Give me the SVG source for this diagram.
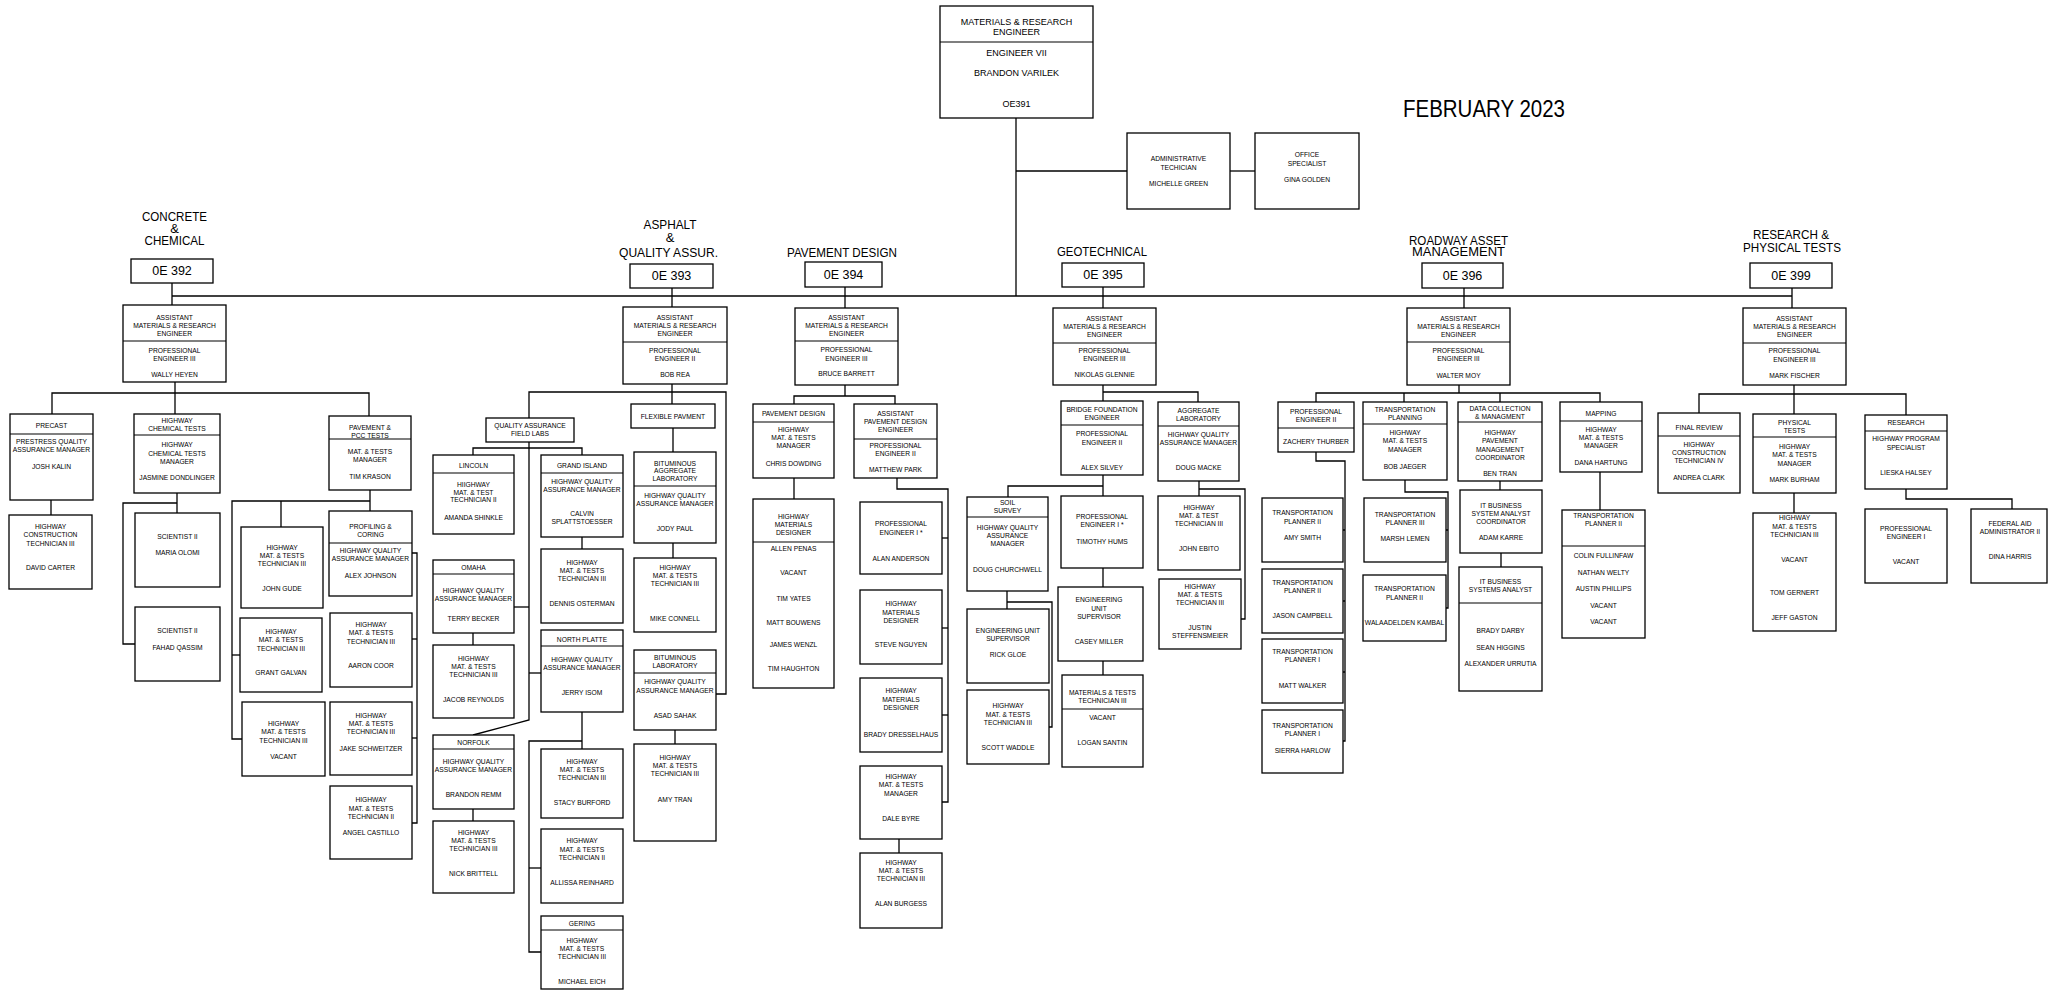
<svg xmlns="http://www.w3.org/2000/svg" width="2049" height="997" viewBox="0 0 2049 997">
<style>
.b{fill:#fff;stroke:#000;stroke-width:1.3}
.d{fill:none;stroke:#000;stroke-width:1.1}
#connectors path{fill:none;stroke:#000;stroke-width:1.3}
text{font-family:"Liberation Sans",Arial,Helvetica,sans-serif;fill:#000;text-anchor:middle}
.t{font-size:6.7px;dominant-baseline:central}
.h{font-size:13px}
.oe{font-size:12.5px;dominant-baseline:central}
.r{font-size:9px;dominant-baseline:central}
.big{font-size:24px}
</style>
<rect width="2049" height="997" fill="#fff"/>
<g id="connectors">
<path d="M1016 118V296"/><path d="M1016 171H1127"/><path d="M1230 171H1255"/><path d="M172 296H1792"/>
<path d="M172 283V305"/><path d="M672 288V307"/><path d="M845 287V308"/><path d="M1103 287V308"/><path d="M1464 288V308"/><path d="M1792 288V308"/>
<path d="M175 382V393"/><path d="M52 414V393H369V416"/><path d="M175 393V414"/><path d="M51 500V515"/><path d="M177 493V513"/><path d="M177 503H123V644H135"/>
<path d="M370 490V511"/><path d="M370 501H232V739H242"/><path d="M232 655H240"/><path d="M281 501V527"/><path d="M412 553H417V823H412"/><path d="M417 639H412"/><path d="M417 738H412"/>
<path d="M672 384V404"/><path d="M529 418V392H726V694H716"/><path d="M673 428V452"/><path d="M673 543V558"/><path d="M675 730V744"/>
<path d="M529 442V720L473 735"/><path d="M473 455V448H582V455"/><path d="M514 607H529"/><path d="M529 673H541"/><path d="M582 537V549"/><path d="M473 633V645"/><path d="M473 809V821"/>
<path d="M582 712V749"/><path d="M582 741H529V952H541"/><path d="M529 868H541"/>
<path d="M845 385V396"/><path d="M794 404V396H895V404"/><path d="M794 478V499"/><path d="M897 478V489H948V802H942"/><path d="M948 538H942"/><path d="M948 628H942"/><path d="M948 715H942"/><path d="M899 839V853"/>
<path d="M1103 385V401"/><path d="M1103 392H1198V402"/><path d="M1103 475V496"/><path d="M1103 486H1008V497"/><path d="M1007 591V609"/><path d="M1007 602H1052V727H1048"/><path d="M1103 568V587"/><path d="M1103 661V675"/><path d="M1199 481V496"/><path d="M1199 489H1245V619H1241"/>
<path d="M1459 385V393"/><path d="M1316 402V393H1600V402"/><path d="M1404 393V402"/><path d="M1500 393V402"/><path d="M1316 452V461H1345V741H1343"/><path d="M1345 530H1343"/><path d="M1345 601H1343"/><path d="M1345 672H1343"/>
<path d="M1405 480V492H1448V608H1446"/><path d="M1448 530H1446"/><path d="M1500 481V490"/><path d="M1501 553V567"/><path d="M1600 472V510"/>
<path d="M1794 385V394"/><path d="M1699 413V394H1906V415"/><path d="M1794 394V414"/><path d="M1794 493V513"/><path d="M1906 489V499H2012V509"/>
</g>
<g id="labels">
<text class="big" x="1484" y="117" textLength="162" lengthAdjust="spacingAndGlyphs">FEBRUARY 2023</text>
<text class="h" x="174.5" y="221" textLength="65" lengthAdjust="spacingAndGlyphs">CONCRETE</text>
<text class="h" x="174.5" y="233">&amp;</text>
<text class="h" x="174.5" y="245" textLength="60" lengthAdjust="spacingAndGlyphs">CHEMICAL</text>
<text class="h" x="670" y="229" textLength="53" lengthAdjust="spacingAndGlyphs">ASPHALT</text>
<text class="h" x="670" y="242">&amp;</text>
<text class="h" x="668.5" y="257" textLength="99" lengthAdjust="spacingAndGlyphs">QUALITY ASSUR.</text>
<text class="h" x="842" y="257" textLength="110" lengthAdjust="spacingAndGlyphs">PAVEMENT DESIGN</text>
<text class="h" x="1102" y="256" textLength="90" lengthAdjust="spacingAndGlyphs">GEOTECHNICAL</text>
<text class="h" x="1458.5" y="245" textLength="99" lengthAdjust="spacingAndGlyphs">ROADWAY ASSET</text>
<text class="h" x="1458.5" y="256" textLength="93" lengthAdjust="spacingAndGlyphs">MANAGEMENT</text>
<text class="h" x="1791" y="239" textLength="76" lengthAdjust="spacingAndGlyphs">RESEARCH &amp;</text>
<text class="h" x="1792" y="252" textLength="98" lengthAdjust="spacingAndGlyphs">PHYSICAL TESTS</text>
</g>
<g id="n-root"><rect class="b" x="940" y="6" width="153" height="112"/><path class="d" d="M940 42H1093"/>
<text class="r" x="1016.5" y="22">MATERIALS &amp; RESEARCH</text><text class="r" x="1016.5" y="32">ENGINEER</text><text class="r" x="1016.5" y="53">ENGINEER VII</text><text class="r" x="1016.5" y="73">BRANDON VARILEK</text><text class="r" x="1016.5" y="104">OE391</text></g>
<g id="n-admin"><rect class="b" x="1127" y="133" width="103" height="76"/><text class="t" x="1178.5" y="158">ADMINISTRATIVE</text><text class="t" x="1178.5" y="167">TECHICIAN</text><text class="t" x="1178.5" y="183">MICHELLE GREEN</text></g>
<g id="n-office"><rect class="b" x="1255" y="133" width="104" height="76"/><text class="t" x="1307" y="154">OFFICE</text><text class="t" x="1307" y="163">SPECIALIST</text><text class="t" x="1307" y="179">GINA GOLDEN</text></g>
<g id="n-oe392"><rect class="b" x="131" y="259" width="82" height="24"/><text class="oe" x="172" y="271">0E 392</text></g>
<g id="n-oe393"><rect class="b" x="630" y="264" width="83" height="24"/><text class="oe" x="671.5" y="276">0E 393</text></g>
<g id="n-oe394"><rect class="b" x="805" y="262" width="77" height="25"/><text class="oe" x="843.5" y="274.5">0E 394</text></g>
<g id="n-oe395"><rect class="b" x="1062" y="263" width="82" height="24"/><text class="oe" x="1103" y="275">0E 395</text></g>
<g id="n-oe396"><rect class="b" x="1422" y="263" width="81" height="25"/><text class="oe" x="1462.5" y="275.5">0E 396</text></g>
<g id="n-oe399"><rect class="b" x="1750" y="263" width="82" height="25"/><text class="oe" x="1791" y="275.5">0E 399</text></g>

<g id="n-c-asst"><rect class="b" x="123" y="305" width="103" height="77"/><path class="d" d="M123 341H226"/>
<text class="t" x="174.5" y="317">ASSISTANT</text><text class="t" x="174.5" y="325">MATERIALS &amp; RESEARCH</text><text class="t" x="174.5" y="333">ENGINEER</text><text class="t" x="174.5" y="350">PROFESSIONAL</text><text class="t" x="174.5" y="358">ENGINEER III</text><text class="t" x="174.5" y="374">WALLY HEYEN</text></g>
<g id="n-precast"><rect class="b" x="10" y="414" width="83" height="86"/><path class="d" d="M10 434H93"/>
<text class="t" x="51.5" y="425">PRECAST</text><text class="t" x="51.5" y="441">PRESTRESS QUALITY</text><text class="t" x="51.5" y="449">ASSURANCE MANAGER</text><text class="t" x="51.5" y="466">JOSH KALIN</text></g>
<g id="n-carter"><rect class="b" x="9" y="515" width="83" height="74"/>
<text class="t" x="50.5" y="526">HIGHWAY</text><text class="t" x="50.5" y="534">CONSTRUCTION</text><text class="t" x="50.5" y="543">TECHNICIAN III</text><text class="t" x="50.5" y="567">DAVID CARTER</text></g>
<g id="n-chem"><rect class="b" x="134" y="414" width="86" height="79"/><path class="d" d="M134 435H220"/>
<text class="t" x="177" y="420">HIGHWAY</text><text class="t" x="177" y="428">CHEMICAL TESTS</text><text class="t" x="177" y="444">HIGHWAY</text><text class="t" x="177" y="453">CHEMICAL TESTS</text><text class="t" x="177" y="461">MANAGER</text><text class="t" x="177" y="477">JASMINE DONDLINGER</text></g>
<g id="n-olomi"><rect class="b" x="135" y="513" width="85" height="74"/><text class="t" x="177.5" y="536">SCIENTIST II</text><text class="t" x="177.5" y="552">MARIA OLOMI</text></g>
<g id="n-qassim"><rect class="b" x="135" y="607" width="85" height="74"/><text class="t" x="177.5" y="630">SCIENTIST II</text><text class="t" x="177.5" y="647">FAHAD QASSIM</text></g>
<g id="n-pcc"><rect class="b" x="329" y="416" width="82" height="74"/><path class="d" d="M329 439H411"/>
<text class="t" x="370" y="427">PAVEMENT &amp;</text><text class="t" x="370" y="435">PCC TESTS</text><text class="t" x="370" y="451">MAT. &amp; TESTS</text><text class="t" x="370" y="459">MANAGER</text><text class="t" x="370" y="476">TIM KRASON</text></g>
<g id="n-gude"><rect class="b" x="241" y="527" width="82" height="81"/>
<text class="t" x="282" y="547">HIGHWAY</text><text class="t" x="282" y="555">MAT. &amp; TESTS</text><text class="t" x="282" y="563">TECHNICIAN III</text><text class="t" x="282" y="588">JOHN GUDE</text></g>
<g id="n-profiling"><rect class="b" x="329" y="511" width="83" height="85"/><path class="d" d="M329 543H412"/>
<text class="t" x="370.5" y="526">PROFILING &amp;</text><text class="t" x="370.5" y="534">CORING</text><text class="t" x="370.5" y="550">HIGHWAY QUALITY</text><text class="t" x="370.5" y="558">ASSURANCE MANAGER</text><text class="t" x="370.5" y="575">ALEX JOHNSON</text></g>
<g id="n-galvan"><rect class="b" x="240" y="618" width="82" height="74"/>
<text class="t" x="281" y="631">HIGHWAY</text><text class="t" x="281" y="639">MAT. &amp; TESTS</text><text class="t" x="281" y="648">TECHNICIAN III</text><text class="t" x="281" y="672">GRANT GALVAN</text></g>
<g id="n-c-vacant"><rect class="b" x="242" y="702" width="83" height="74"/>
<text class="t" x="283.5" y="723">HIGHWAY</text><text class="t" x="283.5" y="731">MAT. &amp; TESTS</text><text class="t" x="283.5" y="740">TECHNICIAN III</text><text class="t" x="283.5" y="756">VACANT</text></g>
<g id="n-coor"><rect class="b" x="330" y="613" width="82" height="74"/>
<text class="t" x="371" y="624">HIGHWAY</text><text class="t" x="371" y="632">MAT. &amp; TESTS</text><text class="t" x="371" y="641">TECHNICIAN III</text><text class="t" x="371" y="665">AARON COOR</text></g>
<g id="n-schweitzer"><rect class="b" x="330" y="702" width="82" height="73"/>
<text class="t" x="371" y="715">HIGHWAY</text><text class="t" x="371" y="723">MAT. &amp; TESTS</text><text class="t" x="371" y="731">TECHNICIAN III</text><text class="t" x="371" y="748">JAKE SCHWEITZER</text></g>
<g id="n-castillo"><rect class="b" x="330" y="786" width="82" height="73"/>
<text class="t" x="371" y="799">HIGHWAY</text><text class="t" x="371" y="808">MAT. &amp; TESTS</text><text class="t" x="371" y="816">TECHNICIAN II</text><text class="t" x="371" y="832">ANGEL CASTILLO</text></g>

<g id="n-a-asst"><rect class="b" x="623" y="307" width="104" height="77"/><path class="d" d="M623 342H727"/>
<text class="t" x="675" y="317">ASSISTANT</text><text class="t" x="675" y="325">MATERIALS &amp; RESEARCH</text><text class="t" x="675" y="333">ENGINEER</text><text class="t" x="675" y="350">PROFESSIONAL</text><text class="t" x="675" y="358">ENGINEER II</text><text class="t" x="675" y="374">BOB REA</text></g>
<g id="n-flex"><rect class="b" x="631" y="404" width="84" height="24"/><text class="t" x="673" y="416">FLEXIBLE PAVMENT</text></g>
<g id="n-bitagg"><rect class="b" x="634" y="452" width="82" height="91"/><path class="d" d="M634 486H716"/>
<text class="t" x="675" y="463">BITUMINOUS</text><text class="t" x="675" y="470">AGGREGATE</text><text class="t" x="675" y="478">LABORATORY</text><text class="t" x="675" y="495">HIGHWAY QUALITY</text><text class="t" x="675" y="503">ASSURANCE MANAGER</text><text class="t" x="675" y="528">JODY PAUL</text></g>
<g id="n-connell"><rect class="b" x="634" y="558" width="82" height="74"/>
<text class="t" x="675" y="567">HIGHWAY</text><text class="t" x="675" y="575">MAT. &amp; TESTS</text><text class="t" x="675" y="583">TECHNICIAN III</text><text class="t" x="675" y="618">MIKE CONNELL</text></g>
<g id="n-bitlab"><rect class="b" x="634" y="650" width="82" height="80"/><path class="d" d="M634 673H716"/>
<text class="t" x="675" y="657">BITUMINOUS</text><text class="t" x="675" y="665">LABORATORY</text><text class="t" x="675" y="681">HIGHWAY QUALITY</text><text class="t" x="675" y="690">ASSURANCE MANAGER</text><text class="t" x="675" y="715">ASAD SAHAK</text></g>
<g id="n-tran"><rect class="b" x="634" y="744" width="82" height="97"/>
<text class="t" x="675" y="757">HIGHWAY</text><text class="t" x="675" y="765">MAT. &amp; TESTS</text><text class="t" x="675" y="773">TECHNICIAN III</text><text class="t" x="675" y="799">AMY TRAN</text></g>
<g id="n-qa"><rect class="b" x="486" y="418" width="88" height="24"/><text class="t" x="530" y="425">QUALITY ASSURANCE</text><text class="t" x="530" y="433">FIELD LABS</text></g>
<g id="n-lincoln"><rect class="b" x="433" y="455" width="81" height="79"/><path class="d" d="M433 473H514"/>
<text class="t" x="473.5" y="465">LINCOLN</text><text class="t" x="473.5" y="484">HIIGHWAY</text><text class="t" x="473.5" y="492">MAT. &amp; TEST</text><text class="t" x="473.5" y="499">TECHNICIAN II</text><text class="t" x="473.5" y="517">AMANDA SHINKLE</text></g>
<g id="n-grand"><rect class="b" x="541" y="455" width="82" height="82"/><path class="d" d="M541 473H623"/>
<text class="t" x="582" y="465">GRAND ISLAND</text><text class="t" x="582" y="481">HIGHWAY QUALITY</text><text class="t" x="582" y="489">ASSURANCE MANAGER</text><text class="t" x="582" y="513">CALVIN</text><text class="t" x="582" y="521">SPLATTSTOESSER</text></g>
<g id="n-osterman"><rect class="b" x="541" y="549" width="82" height="74"/>
<text class="t" x="582" y="562">HIGHWAY</text><text class="t" x="582" y="570">MAT. &amp; TESTS</text><text class="t" x="582" y="578">TECHNICIAN III</text><text class="t" x="582" y="603">DENNIS OSTERMAN</text></g>
<g id="n-omaha"><rect class="b" x="433" y="560" width="81" height="73"/><path class="d" d="M433 574H514"/>
<text class="t" x="473.5" y="567">OMAHA</text><text class="t" x="473.5" y="590">HIGHWAY QUALITY</text><text class="t" x="473.5" y="598">ASSURANCE MANAGER</text><text class="t" x="473.5" y="618">TERRY BECKER</text></g>
<g id="n-reynolds"><rect class="b" x="433" y="645" width="81" height="73"/>
<text class="t" x="473.5" y="658">HIGHWAY</text><text class="t" x="473.5" y="666">MAT. &amp; TESTS</text><text class="t" x="473.5" y="674">TECHNICIAN III</text><text class="t" x="473.5" y="699">JACOB REYNOLDS</text></g>
<g id="n-norfolk"><rect class="b" x="433" y="735" width="81" height="74"/><path class="d" d="M433 749H514"/>
<text class="t" x="473.5" y="742">NORFOLK</text><text class="t" x="473.5" y="761">HIGHWAY QUALITY</text><text class="t" x="473.5" y="769">ASSURANCE MANAGER</text><text class="t" x="473.5" y="794">BRANDON REMM</text></g>
<g id="n-brittell"><rect class="b" x="433" y="821" width="81" height="72"/>
<text class="t" x="473.5" y="832">HIGHWAY</text><text class="t" x="473.5" y="840">MAT. &amp; TESTS</text><text class="t" x="473.5" y="848">TECHNICIAN III</text><text class="t" x="473.5" y="873">NICK BRITTELL</text></g>
<g id="n-platte"><rect class="b" x="541" y="630" width="82" height="82"/><path class="d" d="M541 646H623"/>
<text class="t" x="582" y="639">NORTH PLATTE</text><text class="t" x="582" y="659">HIGHWAY QUALITY</text><text class="t" x="582" y="667">ASSURANCE MANAGER</text><text class="t" x="582" y="692">JERRY ISOM</text></g>
<g id="n-burford"><rect class="b" x="541" y="749" width="82" height="69"/>
<text class="t" x="582" y="761">HIGHWAY</text><text class="t" x="582" y="769">MAT. &amp; TESTS</text><text class="t" x="582" y="777">TECHNICIAN III</text><text class="t" x="582" y="802">STACY BURFORD</text></g>
<g id="n-reinhard"><rect class="b" x="541" y="829" width="82" height="74"/>
<text class="t" x="582" y="840">HIGHWAY</text><text class="t" x="582" y="849">MAT. &amp; TESTS</text><text class="t" x="582" y="857">TECHNICIAN II</text><text class="t" x="582" y="882">ALLISSA REINHARD</text></g>
<g id="n-gering"><rect class="b" x="541" y="916" width="82" height="73"/><path class="d" d="M541 930H623"/>
<text class="t" x="582" y="923">GERING</text><text class="t" x="582" y="940">HIGHWAY</text><text class="t" x="582" y="948">MAT. &amp; TESTS</text><text class="t" x="582" y="956">TECHNICIAN III</text><text class="t" x="582" y="981">MICHAEL EICH</text></g>

<g id="n-p-asst"><rect class="b" x="795" y="308" width="103" height="77"/><path class="d" d="M795 341H898"/>
<text class="t" x="846.5" y="317">ASSISTANT</text><text class="t" x="846.5" y="325">MATERIALS &amp; RESEARCH</text><text class="t" x="846.5" y="333">ENGINEER</text><text class="t" x="846.5" y="349">PROFESSIONAL</text><text class="t" x="846.5" y="358">ENGINEER III</text><text class="t" x="846.5" y="373">BRUCE BARRETT</text></g>
<g id="n-pdesign"><rect class="b" x="753" y="404" width="81" height="74"/><path class="d" d="M753 422H834"/>
<text class="t" x="793.5" y="413">PAVEMENT DESIGN</text><text class="t" x="793.5" y="429">HIGHWAY</text><text class="t" x="793.5" y="437">MAT. &amp; TESTS</text><text class="t" x="793.5" y="445">MANAGER</text><text class="t" x="793.5" y="463">CHRIS DOWDING</text></g>
<g id="n-designers"><rect class="b" x="753" y="499" width="81" height="189"/><path class="d" d="M753 542H834"/>
<text class="t" x="793.5" y="516">HIGHWAY</text><text class="t" x="793.5" y="524">MATERIALS</text><text class="t" x="793.5" y="532">DESIGNER</text><text class="t" x="793.5" y="548">ALLEN PENAS</text><text class="t" x="793.5" y="572">VACANT</text><text class="t" x="793.5" y="598">TIM YATES</text><text class="t" x="793.5" y="622">MATT BOUWENS</text><text class="t" x="793.5" y="644">JAMES WENZL</text><text class="t" x="793.5" y="668">TIM HAUGHTON</text></g>
<g id="n-apde"><rect class="b" x="854" y="404" width="83" height="74"/><path class="d" d="M854 439H937"/>
<text class="t" x="895.5" y="413">ASSISTANT</text><text class="t" x="895.5" y="421">PAVEMENT DESIGN</text><text class="t" x="895.5" y="429">ENGINEER</text><text class="t" x="895.5" y="445">PROFESSIONAL</text><text class="t" x="895.5" y="453">ENGINEER II</text><text class="t" x="895.5" y="469">MATTHEW PARK</text></g>
<g id="n-anderson"><rect class="b" x="860" y="502" width="82" height="72"/>
<text class="t" x="901" y="523">PROFESSIONAL</text><text class="t" x="901" y="532">ENGINEER I *</text><text class="t" x="901" y="558">ALAN ANDERSON</text></g>
<g id="n-nguyen"><rect class="b" x="860" y="590" width="82" height="74"/>
<text class="t" x="901" y="603">HIGHWAY</text><text class="t" x="901" y="612">MATERIALS</text><text class="t" x="901" y="620">DESIGNER</text><text class="t" x="901" y="644">STEVE NGUYEN</text></g>
<g id="n-dresselhaus"><rect class="b" x="860" y="678" width="82" height="74"/>
<text class="t" x="901" y="690">HIGHWAY</text><text class="t" x="901" y="699">MATERIALS</text><text class="t" x="901" y="707">DESIGNER</text><text class="t" x="901" y="734">BRADY DRESSELHAUS</text></g>
<g id="n-byre"><rect class="b" x="860" y="766" width="82" height="73"/>
<text class="t" x="901" y="776">HIGHWAY</text><text class="t" x="901" y="784">MAT. &amp; TESTS</text><text class="t" x="901" y="793">MANAGER</text><text class="t" x="901" y="818">DALE BYRE</text></g>
<g id="n-burgess"><rect class="b" x="860" y="853" width="82" height="75"/>
<text class="t" x="901" y="862">HIGHWAY</text><text class="t" x="901" y="870">MAT. &amp; TESTS</text><text class="t" x="901" y="878">TECHNICIAN III</text><text class="t" x="901" y="903">ALAN BURGESS</text></g>

<g id="n-g-asst"><rect class="b" x="1053" y="308" width="103" height="77"/><path class="d" d="M1053 343H1156"/>
<text class="t" x="1104.5" y="318">ASSISTANT</text><text class="t" x="1104.5" y="326">MATERIALS &amp; RESEARCH</text><text class="t" x="1104.5" y="334">ENGINEER</text><text class="t" x="1104.5" y="350">PROFESSIONAL</text><text class="t" x="1104.5" y="358">ENGINEER III</text><text class="t" x="1104.5" y="374">NIKOLAS GLENNIE</text></g>
<g id="n-bridge"><rect class="b" x="1061" y="401" width="82" height="74"/><path class="d" d="M1061 425H1143"/>
<text class="t" x="1102" y="409">BRIDGE FOUNDATION</text><text class="t" x="1102" y="417">ENGINEER</text><text class="t" x="1102" y="433">PROFESSIONAL</text><text class="t" x="1102" y="442">ENGINEER II</text><text class="t" x="1102" y="467">ALEX SILVEY</text></g>
<g id="n-aggregate"><rect class="b" x="1158" y="402" width="81" height="79"/><path class="d" d="M1158 426H1239"/>
<text class="t" x="1198.5" y="410">AGGREGATE</text><text class="t" x="1198.5" y="418">LABORATORY</text><text class="t" x="1198.5" y="434">HIGHWAY QUALITY</text><text class="t" x="1198.5" y="442">ASSURANCE MANAGER</text><text class="t" x="1198.5" y="467">DOUG MACKE</text></g>
<g id="n-soil"><rect class="b" x="967" y="497" width="81" height="94"/><path class="d" d="M967 517H1048"/>
<text class="t" x="1007.5" y="502">SOIL</text><text class="t" x="1007.5" y="510">SURVEY</text><text class="t" x="1007.5" y="527">HIGHWAY QUALITY</text><text class="t" x="1007.5" y="535">ASSURANCE</text><text class="t" x="1007.5" y="543">MANAGER</text><text class="t" x="1007.5" y="569">DOUG CHURCHWELL</text></g>
<g id="n-gloe"><rect class="b" x="967" y="609" width="82" height="74"/>
<text class="t" x="1008" y="630">ENGINEERING UNIT</text><text class="t" x="1008" y="638">SUPERVISOR</text><text class="t" x="1008" y="654">RICK GLOE</text></g>
<g id="n-waddle"><rect class="b" x="967" y="690" width="82" height="74"/>
<text class="t" x="1008" y="705">HIGHWAY</text><text class="t" x="1008" y="714">MAT. &amp; TESTS</text><text class="t" x="1008" y="722">TECHNICIAN III</text><text class="t" x="1008" y="747">SCOTT WADDLE</text></g>
<g id="n-hums"><rect class="b" x="1061" y="496" width="82" height="72"/>
<text class="t" x="1102" y="516">PROFESSIONAL</text><text class="t" x="1102" y="524">ENGINEER I *</text><text class="t" x="1102" y="541">TIMOTHY HUMS</text></g>
<g id="n-miller"><rect class="b" x="1058" y="587" width="85" height="74"/>
<text class="t" x="1099" y="599">ENGINEERING</text><text class="t" x="1099" y="608">UNIT</text><text class="t" x="1099" y="616">SUPERVISOR</text><text class="t" x="1099" y="641">CASEY MILLER</text></g>
<g id="n-santin"><rect class="b" x="1062" y="675" width="81" height="92"/><path class="d" d="M1062 709H1143"/>
<text class="t" x="1102.5" y="692">MATERIALS &amp; TESTS</text><text class="t" x="1102.5" y="700">TECHNICIAN III</text><text class="t" x="1102.5" y="717">VACANT</text><text class="t" x="1102.5" y="742">LOGAN SANTIN</text></g>
<g id="n-ebito"><rect class="b" x="1158" y="496" width="82" height="74"/>
<text class="t" x="1199" y="507">HIGHWAY</text><text class="t" x="1199" y="515">MAT. &amp; TEST</text><text class="t" x="1199" y="523">TECHNICIAN III</text><text class="t" x="1199" y="548">JOHN EBITO</text></g>
<g id="n-steffensmeier"><rect class="b" x="1159" y="579" width="82" height="70"/>
<text class="t" x="1200" y="586">HIGHWAY</text><text class="t" x="1200" y="594">MAT. &amp; TESTS</text><text class="t" x="1200" y="602">TECHNICIAN III</text><text class="t" x="1200" y="627">JUSTIN</text><text class="t" x="1200" y="635">STEFFENSMEIER</text></g>

<g id="n-r-asst"><rect class="b" x="1407" y="308" width="103" height="77"/><path class="d" d="M1407 342H1510"/>
<text class="t" x="1458.5" y="318">ASSISTANT</text><text class="t" x="1458.5" y="326">MATERIALS &amp; RESEARCH</text><text class="t" x="1458.5" y="334">ENGINEER</text><text class="t" x="1458.5" y="350">PROFESSIONAL</text><text class="t" x="1458.5" y="358">ENGINEER III</text><text class="t" x="1458.5" y="375">WALTER MOY</text></g>
<g id="n-thurber"><rect class="b" x="1278" y="402" width="76" height="50"/><path class="d" d="M1278 428H1354"/>
<text class="t" x="1316" y="411">PROFESSIONAL</text><text class="t" x="1316" y="419">ENGINEER II</text><text class="t" x="1316" y="441">ZACHERY THURBER</text></g>
<g id="n-smith"><rect class="b" x="1262" y="498" width="81" height="64"/>
<text class="t" x="1302.5" y="512">TRANSPORTATION</text><text class="t" x="1302.5" y="521">PLANNER II</text><text class="t" x="1302.5" y="537">AMY SMITH</text></g>
<g id="n-campbell"><rect class="b" x="1262" y="569" width="81" height="64"/>
<text class="t" x="1302.5" y="582">TRANSPORTATION</text><text class="t" x="1302.5" y="590">PLANNER II</text><text class="t" x="1302.5" y="615">JASON CAMPBELL</text></g>
<g id="n-walker"><rect class="b" x="1262" y="639" width="81" height="64"/>
<text class="t" x="1302.5" y="651">TRANSPORTATION</text><text class="t" x="1302.5" y="659">PLANNER I</text><text class="t" x="1302.5" y="685">MATT WALKER</text></g>
<g id="n-harlow"><rect class="b" x="1262" y="710" width="81" height="63"/>
<text class="t" x="1302.5" y="725">TRANSPORTATION</text><text class="t" x="1302.5" y="733">PLANNER I</text><text class="t" x="1302.5" y="750">SIERRA HARLOW</text></g>
<g id="n-tplanning"><rect class="b" x="1363" y="402" width="84" height="78"/><path class="d" d="M1363 424H1447"/>
<text class="t" x="1405" y="409">TRANSPORTATION</text><text class="t" x="1405" y="417">PLANNING</text><text class="t" x="1405" y="432">HIGHWAY</text><text class="t" x="1405" y="440">MAT. &amp; TESTS</text><text class="t" x="1405" y="449">MANAGER</text><text class="t" x="1405" y="466">BOB JAEGER</text></g>
<g id="n-lemen"><rect class="b" x="1364" y="498" width="82" height="64"/>
<text class="t" x="1405" y="514">TRANSPORTATION</text><text class="t" x="1405" y="522">PLANNER III</text><text class="t" x="1405" y="538">MARSH LEMEN</text></g>
<g id="n-kambal"><rect class="b" x="1363" y="575" width="83" height="66"/>
<text class="t" x="1404.5" y="588">TRANSPORTATION</text><text class="t" x="1404.5" y="597">PLANNER II</text><text class="t" x="1404.5" y="622">WALAADELDEN KAMBAL</text></g>
<g id="n-datacol"><rect class="b" x="1458" y="402" width="84" height="79"/><path class="d" d="M1458 422H1542"/>
<text class="t" x="1500" y="408">DATA COLLECTION</text><text class="t" x="1500" y="416">&amp; MANAGMENT</text><text class="t" x="1500" y="432">HIGHWAY</text><text class="t" x="1500" y="440">PAVEMENT</text><text class="t" x="1500" y="449">MANAGEMENT</text><text class="t" x="1500" y="457">COORDINATOR</text><text class="t" x="1500" y="473">BEN TRAN</text></g>
<g id="n-karre"><rect class="b" x="1460" y="490" width="82" height="63"/>
<text class="t" x="1501" y="505">IT BUSINESS</text><text class="t" x="1501" y="513">SYSTEM ANALYST</text><text class="t" x="1501" y="521">COORDINATOR</text><text class="t" x="1501" y="537">ADAM KARRE</text></g>
<g id="n-analysts"><rect class="b" x="1459" y="567" width="83" height="124"/><path class="d" d="M1459 603H1542"/>
<text class="t" x="1500.5" y="581">IT BUSINESS</text><text class="t" x="1500.5" y="589">SYSTEMS ANALYST</text><text class="t" x="1500.5" y="630">BRADY DARBY</text><text class="t" x="1500.5" y="647">SEAN HIGGINS</text><text class="t" x="1500.5" y="663">ALEXANDER URRUTIA</text></g>
<g id="n-mapping"><rect class="b" x="1560" y="402" width="82" height="70"/><path class="d" d="M1560 421H1642"/>
<text class="t" x="1601" y="413">MAPPING</text><text class="t" x="1601" y="429">HIGHWAY</text><text class="t" x="1601" y="437">MAT. &amp; TESTS</text><text class="t" x="1601" y="445">MANAGER</text><text class="t" x="1601" y="462">DANA HARTUNG</text></g>
<g id="n-planners"><rect class="b" x="1562" y="510" width="83" height="128"/><path class="d" d="M1562 546H1645"/>
<text class="t" x="1603.5" y="515">TRANSPORTATION</text><text class="t" x="1603.5" y="523">PLANNER II</text><text class="t" x="1603.5" y="555">COLIN FULLINFAW</text><text class="t" x="1603.5" y="572">NATHAN WELTY</text><text class="t" x="1603.5" y="588">AUSTIN PHILLIPS</text><text class="t" x="1603.5" y="605">VACANT</text><text class="t" x="1603.5" y="621">VACANT</text></g>

<g id="n-rs-asst"><rect class="b" x="1743" y="308" width="103" height="77"/><path class="d" d="M1743 343H1846"/>
<text class="t" x="1794.5" y="318">ASSISTANT</text><text class="t" x="1794.5" y="326">MATERIALS &amp; RESEARCH</text><text class="t" x="1794.5" y="334">ENGINEER</text><text class="t" x="1794.5" y="350">PROFESSIONAL</text><text class="t" x="1794.5" y="359">ENGINEER III</text><text class="t" x="1794.5" y="375">MARK FISCHER</text></g>
<g id="n-final"><rect class="b" x="1658" y="413" width="82" height="80"/><path class="d" d="M1658 436H1740"/>
<text class="t" x="1699" y="427">FINAL REVIEW</text><text class="t" x="1699" y="444">HIGHWAY</text><text class="t" x="1699" y="452">CONSTRUCTION</text><text class="t" x="1699" y="460">TECHNICIAN IV</text><text class="t" x="1699" y="477">ANDREA CLARK</text></g>
<g id="n-physical"><rect class="b" x="1753" y="414" width="83" height="79"/><path class="d" d="M1753 437H1836"/>
<text class="t" x="1794.5" y="422">PHYSICAL</text><text class="t" x="1794.5" y="430">TESTS</text><text class="t" x="1794.5" y="446">HIGHWAY</text><text class="t" x="1794.5" y="454">MAT. &amp; TESTS</text><text class="t" x="1794.5" y="463">MANAGER</text><text class="t" x="1794.5" y="479">MARK BURHAM</text></g>
<g id="n-techs"><rect class="b" x="1753" y="513" width="83" height="118"/>
<text class="t" x="1794.5" y="517">HIGHWAY</text><text class="t" x="1794.5" y="526">MAT. &amp; TESTS</text><text class="t" x="1794.5" y="534">TECHNICIAN III</text><text class="t" x="1794.5" y="559">VACANT</text><text class="t" x="1794.5" y="592">TOM GERNERT</text><text class="t" x="1794.5" y="617">JEFF GASTON</text></g>
<g id="n-research"><rect class="b" x="1865" y="415" width="82" height="74"/><path class="d" d="M1865 431H1947"/>
<text class="t" x="1906" y="422">RESEARCH</text><text class="t" x="1906" y="438">HIGHWAY PROGRAM</text><text class="t" x="1906" y="447">SPECIALIST</text><text class="t" x="1906" y="472">LIESKA HALSEY</text></g>
<g id="n-pe1"><rect class="b" x="1865" y="509" width="82" height="74"/>
<text class="t" x="1906" y="528">PROFESSIONAL</text><text class="t" x="1906" y="536">ENGINEER I</text><text class="t" x="1906" y="561">VACANT</text></g>
<g id="n-federal"><rect class="b" x="1971" y="509" width="76" height="74"/>
<text class="t" x="2010" y="523">FEDERAL AID</text><text class="t" x="2010" y="531">ADMINISTRATOR II</text><text class="t" x="2010" y="556">DINA HARRIS</text></g>
</svg>
